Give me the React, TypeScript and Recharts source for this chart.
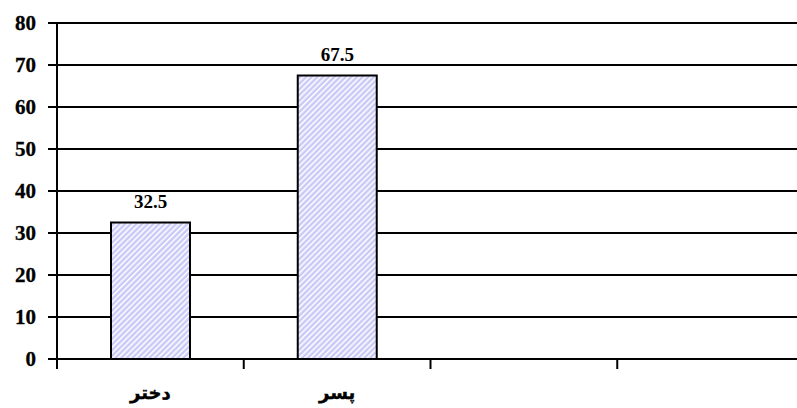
import React from 'react';
import { BarChart, Bar, XAxis, YAxis, CartesianGrid, LabelList } from 'recharts';

// categories (last two slots are empty in the original)
const categories = ['دختر', 'پسر', ' ', '  '];
const percent = [32.5, 67.5, null, null];
const yTicks = [0, 10, 20, 30, 40, 50, 60, 70, 80];

const data = categories.map((name, i) => ({ name, value: percent[i] }));

const CHART_W = 804;
const CHART_H = 408;
const Y_AXIS_W = 57;
const BAND = (CHART_W - Y_AXIS_W) / categories.length;
const FONT = "'Liberation Serif', 'Times New Roman', 'DejaVu Sans', serif";

const CategoryTick = (props: any) => {
  const { x, y, payload } = props;
  const left = x - BAND / 2;
  return (
    <g>
      <line x1={left} y1={y} x2={left} y2={y + 10} stroke="#000" strokeWidth={2} />
      <text
        x={x}
        y={y + 40}
        textAnchor="middle"
        fontFamily="'DejaVu Sans', 'Liberation Serif', serif"
        fontWeight="bold"
        fontSize={18}
        fill="#000"
        stroke="#000"
        strokeWidth={0.4}
      >
        {payload.value}
      </text>
    </g>
  );
};

export default function App() {
  return (
    <div
      style={{
        position: 'absolute',
        left: 0,
        top: 0,
        width: 797,
        height: CHART_H,
        overflow: 'hidden',
        background: '#fff',
      }}
    >
      <BarChart
        width={CHART_W}
        height={CHART_H}
        data={data}
        margin={{ top: 23, right: 0, bottom: 0, left: 0 }}
      >
        <defs>
          <pattern
            id="hatch"
            patternUnits="userSpaceOnUse"
            width={4}
            height={4}
            patternTransform="rotate(45)"
          >
            <rect width={4} height={4} fill="#c9c9f7" />
            <rect x={0} y={0} width={1.5} height={4} fill="#ffffff" />
          </pattern>
        </defs>
        <CartesianGrid vertical={false} stroke="#000" strokeWidth={2} />
        <XAxis
          dataKey="name"
          height={49}
          tickSize={0}
          tickMargin={0}
          axisLine={{ stroke: '#000', strokeWidth: 2 }}
          tickLine={false}
          tick={<CategoryTick />}
          interval={0}
        />
        <YAxis
          width={Y_AXIS_W}
          domain={[0, 80]}
          ticks={yTicks}
          interval={0}
          tickSize={9}
          tickMargin={12}
          axisLine={{ stroke: '#000', strokeWidth: 2 }}
          tickLine={{ stroke: '#000', strokeWidth: 2 }}
          tick={{ fill: '#000', fontSize: 21, fontWeight: 'bold', fontFamily: FONT, stroke: '#000', strokeWidth: 0.3 }}
        />
        <Bar
          dataKey="value"
          barSize={79}
          fill="url(#hatch)"
          stroke="#000"
          strokeWidth={2}
          isAnimationActive={false}
        >
          <LabelList
            dataKey="value"
            position="top"
            offset={15}
            fill="#000"
            fontSize={19}
            fontWeight="bold"
            fontFamily={FONT}
          />
        </Bar>
      </BarChart>
    </div>
  );
}
